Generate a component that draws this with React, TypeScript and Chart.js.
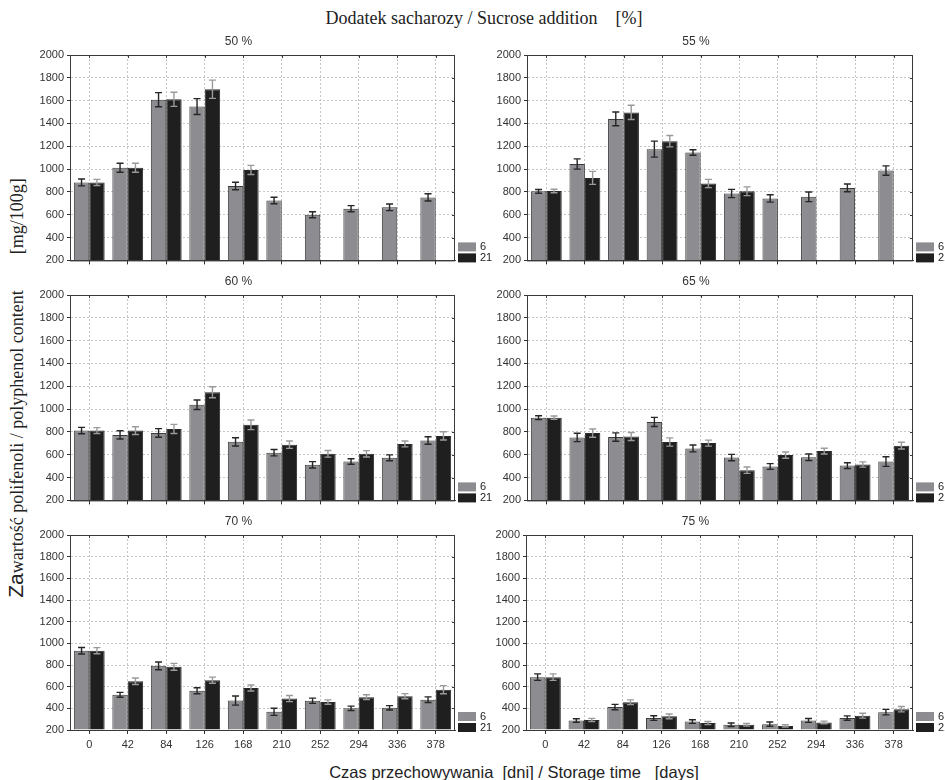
import { useEffect, useRef } from 'react';
import { Chart, registerables } from 'chart.js';

Chart.register(...registerables);

// Storage time categories (days)
const days = ['0', '42', '84', '126', '168', '210', '252', '294', '336', '378'];
const seriesNames = ['6', '21'];
const yMin = 200;
const yMax = 2000;
const yStep = 200;

// 50 % sucrose
const s6_50 = [883, 1012, 1608, 1548, 852, 725, 600, 653, 665, 752];
const s21_50 = [883, 1012, 1612, 1700, 993, null, null, null, null, null];
const e6_50 = [30, 40, 62, 70, 33, 28, 26, 27, 29, 32];
const e21_50 = [27, 40, 62, 80, 40, null, null, null, null, null];

// 55 % sucrose
const s6_55 = [805, 1045, 1440, 1175, 1146, 786, 743, 757, 835, 987];
const s21_55 = [808, 923, 1497, 1245, 874, 806, null, null, null, null];
const e6_55 = [16, 45, 60, 70, 24, 36, 32, 42, 34, 41];
const e21_55 = [15, 57, 62, 50, 36, 38, null, null, null, null];

// 60 % sucrose
const s6_60 = [812, 774, 791, 1038, 713, 618, 512, 541, 573, 725];
const s21_60 = [812, 812, 826, 1148, 862, 688, 608, 608, 695, 765];
const e6_60 = [28, 36, 38, 42, 36, 28, 28, 24, 26, 33];
const e21_60 = [26, 34, 40, 48, 42, 32, 29, 28, 26, 36];

// 65 % sucrose
const s6_65 = [925, 752, 755, 888, 655, 575, 497, 578, 505, 540];
const s21_65 = [925, 790, 760, 712, 702, 465, 597, 632, 515, 680];
const e6_65 = [17, 37, 37, 40, 30, 28, 25, 28, 25, 42];
const e21_65 = [15, 36, 35, 36, 26, 28, 27, 25, 23, 29];

// 70 % sucrose
const s6_70 = [932, 525, 792, 562, 472, 368, 470, 400, 405, 480];
const s21_70 = [932, 650, 783, 660, 588, 490, 458, 503, 512, 572];
const e6_70 = [30, 22, 36, 28, 42, 33, 24, 20, 20, 26];
const e21_70 = [28, 30, 32, 28, 28, 28, 20, 22, 24, 38];

// 75 % sucrose
const s6_75 = [688, 288, 412, 310, 278, 248, 254, 288, 310, 365];
const s21_75 = [688, 293, 456, 326, 264, 248, 238, 270, 332, 392];
const e6_75 = [30, 16, 25, 21, 17, 16, 20, 18, 20, 25];
const e21_75 = [30, 14, 22, 22, 14, 12, 10, 12, 22, 25];

const panelSeries = [
  { title: '50 %', s6: s6_50, s21: s21_50, e6: e6_50, e21: e21_50 },
  { title: '55 %', s6: s6_55, s21: s21_55, e6: e6_55, e21: e21_55 },
  { title: '60 %', s6: s6_60, s21: s21_60, e6: e6_60, e21: e21_60 },
  { title: '65 %', s6: s6_65, s21: s21_65, e6: e6_65, e21: e21_65 },
  { title: '70 %', s6: s6_70, s21: s21_70, e6: e6_70, e21: e21_70 },
  { title: '75 %', s6: s6_75, s21: s21_75, e6: e6_75, e21: e21_75 },
];

// Plot-area boxes on the page
const panelBoxes = [
  { left: 70, top: 55, width: 385, height: 207, showX: false },
  { left: 527, top: 55, width: 386, height: 207, showX: false },
  { left: 70, top: 295, width: 385, height: 207, showX: false },
  { left: 527, top: 295, width: 386, height: 207, showX: false },
  { left: 70, top: 535, width: 385, height: 195, showX: true },
  { left: 526, top: 535, width: 387, height: 195, showX: true },
];

const Y_AXIS_W = 48;
const TITLE_H = 22;
const RIGHT_PAD = 60;
const SANS = "'Liberation Sans', Arial, sans-serif";
const SERIF = "'Liberation Serif', 'Times New Roman', serif";
const GREY = '#8d8d91';
const BLACK = '#1f1f1f';
const FRAME = '#3a3a3a';
const GRID = '#c6c6c6';

// Mean ± SD whiskers on top of every bar
const errorBarsPlugin = {
  id: 'errorBars',
  afterDatasetsDraw(chart: any) {
    const ctx = chart.ctx;
    const yScale = chart.scales.y;
    chart.data.datasets.forEach((ds: any, di: number) => {
      const meta = chart.getDatasetMeta(di);
      meta.data.forEach((bar: any, i: number) => {
        const v = ds.data[i];
        const e = ds.errors ? ds.errors[i] : null;
        if (v == null || e == null) return;
        const x = bar.x;
        const hi = yScale.getPixelForValue(v + e);
        const lo = yScale.getPixelForValue(v - e);
        const cap = 3.5;
        ctx.save();
        ctx.strokeStyle = ds.errorColor;
        ctx.lineWidth = 1.4;
        ctx.beginPath();
        ctx.moveTo(x, hi);
        ctx.lineTo(x, lo);
        ctx.moveTo(x - cap, hi);
        ctx.lineTo(x + cap, hi);
        ctx.moveTo(x - cap, lo);
        ctx.lineTo(x + cap, lo);
        ctx.stroke();
        ctx.restore();
      });
    });
  },
};

// Closed frame with inner ticks on top/right edges, plus the small legend
const framePlugin = {
  id: 'frameAndKey',
  afterDraw(chart: any) {
    const { ctx, chartArea } = chart;
    const { left, right, top, bottom } = chartArea;
    const xs = chart.scales.x;
    const ys = chart.scales.y;
    ctx.save();
    ctx.strokeStyle = FRAME;
    ctx.lineWidth = 1;
    ctx.strokeRect(left + 0.5, top + 0.5, right - left - 1, bottom - top);
    ctx.beginPath();
    xs.ticks.forEach((_: any, i: number) => {
      const px = Math.round(xs.getPixelForTick(i)) + 0.5;
      ctx.moveTo(px, top);
      ctx.lineTo(px, top + 3);
    });
    ys.ticks.forEach((_: any, i: number) => {
      const py = Math.round(ys.getPixelForTick(i)) + 0.5;
      ctx.moveTo(right, py);
      ctx.lineTo(right - 3, py);
    });
    ctx.stroke();

    // legend key
    const boxW = 18;
    const boxH = 9;
    const kx = right + 3;
    ctx.font = `11px ${SANS}`;
    ctx.textBaseline = 'middle';
    chart.data.datasets.forEach((ds: any, i: number) => {
      const ky = bottom - 18 + i * 11;
      ctx.fillStyle = ds.backgroundColor;
      ctx.fillRect(kx, ky, boxW, boxH);
      ctx.fillStyle = '#222';
      ctx.fillText(ds.label, kx + boxW + 4, ky + boxH / 2 + 0.5);
    });
    ctx.restore();
  },
};

function Panel({ series, box }: { series: any; box: any }) {
  const ref = useRef<HTMLCanvasElement>(null);
  const xAxisH = box.showX ? 28 : 8;
  const cw = Y_AXIS_W + box.width + RIGHT_PAD;
  const chh = TITLE_H + box.height + xAxisH;

  useEffect(() => {
    if (!ref.current) return;
    const chart = new Chart(ref.current, {
      type: 'bar',
      data: {
        labels: days,
        datasets: [
          {
            label: seriesNames[0],
            data: series.s6,
            errors: series.e6,
            errorColor: '#262626',
            backgroundColor: GREY,
            borderColor: '#3c3c3c',
            borderWidth: 1,
            base: yMin,
          } as any,
          {
            label: seriesNames[1],
            data: series.s21,
            errors: series.e21,
            errorColor: '#9a9a9a',
            backgroundColor: BLACK,
            borderColor: '#2a2a2a',
            borderWidth: 1,
            base: yMin,
          } as any,
        ],
      },
      options: {
        responsive: false,
        animation: false,
        devicePixelRatio: 1,
        layout: { padding: { left: 0, right: RIGHT_PAD, top: 0, bottom: 0 } },
        datasets: { bar: { categoryPercentage: 0.8, barPercentage: 1.0 } },
        plugins: {
          legend: { display: false },
          tooltip: { enabled: false },
          title: {
            display: true,
            text: series.title,
            color: '#333',
            font: { family: SANS, size: 12, weight: 'normal', lineHeight: 1.2 },
            padding: { top: 1, bottom: 6.6 },
          },
        },
        scales: {
          x: {
            type: 'category',
            offset: true,
            grid: {
              offset: false,
              color: GRID,
              lineWidth: 1,
              drawTicks: true,
              tickLength: 4,
              tickColor: '#333',
              tickBorderDash: [],
            },
            border: { color: FRAME, width: 1, dash: [2, 2] },
            ticks: {
              display: box.showX,
              color: '#333',
              font: { family: SANS, size: 11 },
              padding: 4,
              maxRotation: 0,
              autoSkip: false,
            },
            afterFit: (s: any) => {
              s.height = xAxisH;
            },
          },
          y: {
            min: yMin,
            max: yMax,
            grid: {
              color: GRID,
              lineWidth: 1,
              tickLength: 3,
              tickColor: '#333',
              tickBorderDash: [],
            },
            border: { color: FRAME, width: 1, dash: [2, 2] },
            ticks: {
              stepSize: yStep,
              color: '#333',
              font: { family: SANS, size: 11 },
              padding: 3,
              callback: (v: any) => String(v),
            },
            afterFit: (s: any) => {
              s.width = Y_AXIS_W;
            },
          },
        },
      } as any,
      plugins: [errorBarsPlugin, framePlugin],
    });
    return () => chart.destroy();
  }, []);

  return (
    <canvas
      ref={ref}
      width={cw}
      height={chh}
      style={{
        position: 'absolute',
        left: box.left - Y_AXIS_W,
        top: box.top - TITLE_H,
        width: cw,
        height: chh,
      }}
    />
  );
}

export default function App() {
  return (
    <div
      style={{
        position: 'absolute',
        left: 0,
        top: 0,
        width: 945,
        height: 780,
        background: '#fff',
        overflow: 'hidden',
      }}
    >
      <div
        style={{
          position: 'absolute',
          left: 484,
          top: 18,
          transform: 'translate(-50%, -50%)',
          fontFamily: SERIF,
          fontSize: 18,
          color: '#222',
          whiteSpace: 'pre',
        }}
      >
        {'Dodatek sacharozy / Sucrose addition    [%]'}
      </div>

      <div
        style={{
          position: 'absolute',
          left: 16,
          top: 388,
          transform: 'translate(-50%, -50%) rotate(-90deg)',
          fontFamily: SERIF,
          fontSize: 18,
          color: '#222',
          whiteSpace: 'pre',
          lineHeight: '22px',
        }}
      >
        <span style={{ fontFamily: SANS, fontSize: 21 }}>Za</span>
        {'wartość polifenoli / polyphenol content        [mg/100g]'}
      </div>

      <div
        style={{
          position: 'absolute',
          left: 514,
          top: 772,
          transform: 'translate(-50%, -50%)',
          fontFamily: SANS,
          fontSize: 16.5,
          color: '#222',
          whiteSpace: 'pre',
        }}
      >
        {'Czas przechowywania  [dni] / Storage time   [days]'}
      </div>

      {panelSeries.map((s, i) => (
        <Panel key={s.title} series={s} box={panelBoxes[i]} />
      ))}
    </div>
  );
}
